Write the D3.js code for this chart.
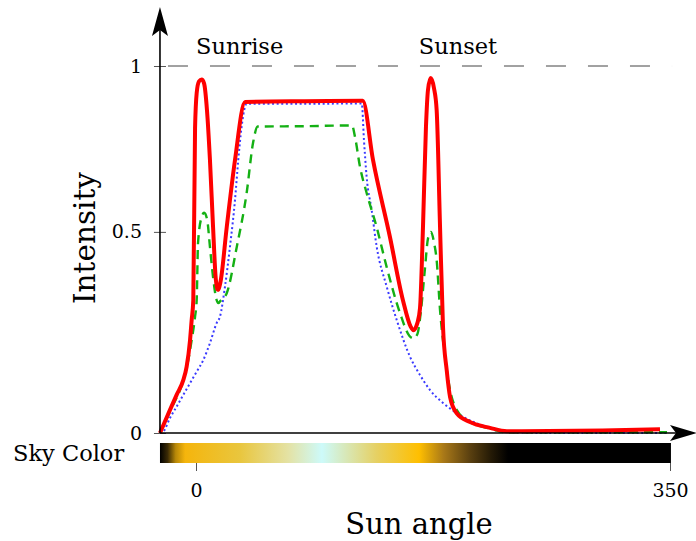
<!DOCTYPE html>
<html>
<head>
<meta charset="utf-8">
<script src="https://cdn.jsdelivr.net/npm/d3@7"></script>
<style>
  body { margin: 0; background: #fff; }
  svg { display: block; }
  text { font-family: "DejaVu Serif", serif; fill: #000; }
</style>
</head>
<body>
<svg id="chart"></svg>
<script>
const width = 696;
const height = 541;

// sun angle (deg) vs intensity
const redSeries = [
  [-26.6, 0], [-19.2, 0.063], [-14.3, 0.104], [-9.4, 0.144], [-6.9, 0.181],
  [-4.4, 0.253], [-3.2, 0.308], [-2.0, 0.362], [-0.7, 0.83], [0.5, 0.926],
  [2.2, 0.958], [4.2, 0.963], [6.0, 0.952], [8.1, 0.88], [10.3, 0.744],
  [12.6, 0.561], [14.6, 0.42], [16.2, 0.39], [18.0, 0.41], [22.7, 0.561],
  [28.8, 0.744], [36.2, 0.902], [80, 0.904], [123.1, 0.905], [130.7, 0.744],
  [143.2, 0.534], [152.8, 0.362], [158.5, 0.29], [160.5, 0.28], [163.5, 0.3],
  [165.4, 0.34], [167.6, 0.561], [169.8, 0.834], [171.3, 0.935], [173.3, 0.967],
  [175.7, 0.94], [177.7, 0.88], [180.2, 0.561], [182.4, 0.289], [185.1, 0.172],
  [187.6, 0.098], [192.5, 0.054], [202.3, 0.03], [217.1, 0.014], [229.6, 0.005],
  [300, 0.007], [342.6, 0.01]
];

const greenSeries = [
  [-26.6, 0], [-19.2, 0.06], [-9.4, 0.144], [-5.7, 0.199], [-3.2, 0.253],
  [-0.7, 0.317], [0.5, 0.362], [1.5, 0.518], [4.2, 0.589], [6.0, 0.6],
  [8.3, 0.58], [10.3, 0.507], [12.6, 0.425], [15.0, 0.365], [16.5, 0.354],
  [18.0, 0.36], [22.7, 0.381], [30.1, 0.507], [37.4, 0.654], [42.1, 0.79],
  [45.5, 0.835], [80, 0.836], [115.2, 0.838], [117.4, 0.807], [121.1, 0.725],
  [126.0, 0.654], [133.4, 0.561], [140.8, 0.452], [150.6, 0.327], [157.5, 0.265],
  [160.5, 0.258], [163.5, 0.27], [166.0, 0.33], [169.1, 0.45], [171.3, 0.53],
  [173.5, 0.548], [175.7, 0.52], [177.7, 0.471], [180.2, 0.335], [183.9, 0.207],
  [187.6, 0.117], [192.5, 0.063], [202.3, 0.03], [217.1, 0.012], [229.6, 0.002],
  [347.8, 0.002]
];

const blueSeries = [
  [-26.6, 0], [-24.1, 0.004], [-19.2, 0.041], [-14.3, 0.072], [-9.4, 0.104],
  [-4.4, 0.136], [0.5, 0.167], [5.4, 0.199], [10.3, 0.245], [15.3, 0.3],
  [17.7, 0.317], [21.4, 0.399], [25.1, 0.508], [28.8, 0.635], [31.2, 0.744],
  [33.7, 0.835], [36.2, 0.889], [37.4, 0.897], [80, 0.897], [122.4, 0.898],
  [124.0, 0.8], [126.0, 0.698], [129.7, 0.608], [133.4, 0.508], [140.8, 0.399],
  [148.2, 0.308], [158.0, 0.208], [165.4, 0.158], [172.8, 0.117], [182.4, 0.082],
  [197.2, 0.044], [214.9, 0.016], [226.7, 0.003], [260, 0], [347.8, 0]
];

// sky colour along the sun angle
const skyStops = [
  [-26.6, "#000000"], [-21, "#3a2a05"], [-15, "#b88808"], [-8, "#f5b50c"],
  [32.5, "#e9c63e"], [68, "#e4e2a4"], [93, "#cdfafa"], [133.6, "#e6d062"],
  [164.7, "#ffbf00"], [183, "#a87818"], [202.3, "#5a4010"], [218, "#241a06"],
  [230.4, "#000000"], [350.7, "#000000"]
];

const xTickValues = [0, 350];
const yTickValues = [0, 0.548, 1];
const yTickLabels = ["0", "0.5", "1"];

const eventLabels = [
  { name: "Sunrise", angle: 0 },
  { name: "Sunset", angle: 164.5 }
];

const svg = d3.select("#chart").attr("width", width).attr("height", height);

const x = d3.scaleLinear().domain([0, 350]).range([196, 670]);
const y = d3.scaleLinear().domain([0, 1]).range([433, 66]);

const x0 = x(-26.6);
const y0 = y(0);

// sky colour bar
const grad = svg.append("defs").append("linearGradient")
  .attr("id", "sky")
  .attr("gradientUnits", "userSpaceOnUse")
  .attr("x1", x(-26.6)).attr("x2", x(350.7))
  .attr("y1", 0).attr("y2", 0);

grad.selectAll("stop")
  .data(skyStops)
  .enter()
  .append("stop")
  .attr("offset", (d) => (x(d[0]) - x(-26.6)) / (x(350.7) - x(-26.6)))
  .attr("stop-color", (d) => d[1]);

svg.append("rect")
  .attr("x", x(-26.6))
  .attr("y", 443)
  .attr("width", x(350.7) - x(-26.6))
  .attr("height", 20)
  .attr("fill", "url(#sky)");

const xAxis = svg.append("g")
  .attr("transform", "translate(0,463)")
  .call(d3.axisBottom(x).tickValues(xTickValues).tickSize(8).tickPadding(13));
xAxis.select(".domain").remove();
xAxis.selectAll(".tick line").attr("stroke", "#555").attr("stroke-width", 1);
xAxis.selectAll(".tick text")
  .style("font-family", "DejaVu Serif, serif")
  .style("font-size", "19px");

svg.append("text")
  .attr("x", 13)
  .attr("y", 461)
  .style("font-size", "22.5px")
  .text("Sky Color");

// dashed line at intensity 1
svg.append("line")
  .attr("x1", x0 + 8).attr("x2", x(351.5))
  .attr("y1", y(1)).attr("y2", y(1))
  .attr("stroke", "#444")
  .attr("stroke-width", 1)
  .attr("stroke-dasharray", "20,22");

// y axis ticks
const yAxis = svg.append("g")
  .attr("transform", `translate(${x0},0)`)
  .call(d3.axisLeft(y).tickValues(yTickValues)
    .tickFormat((d, i) => yTickLabels[i]).tickSize(6).tickPadding(12));
yAxis.select(".domain").remove();
yAxis.selectAll(".tick line")
  .attr("x1", -6).attr("x2", 6)
  .attr("stroke", "#555").attr("stroke-width", 1);
yAxis.selectAll(".tick text")
  .style("font-family", "DejaVu Serif, serif")
  .style("font-size", "19px");

// curves
const line = d3.line()
  .x((d) => x(d[0]))
  .y((d) => y(d[1]))
  .curve(d3.curveMonotoneX);

svg.append("path")
  .datum(blueSeries)
  .attr("d", line)
  .attr("fill", "none")
  .attr("stroke", "#3a3aff")
  .attr("stroke-width", 2)
  .attr("stroke-dasharray", "2,2.6");

svg.append("path")
  .datum(greenSeries)
  .attr("d", line)
  .attr("fill", "none")
  .attr("stroke", "#14b014")
  .attr("stroke-width", 2.4)
  .attr("stroke-dasharray", "9,6");

svg.append("path")
  .datum(redSeries)
  .attr("d", line)
  .attr("fill", "none")
  .attr("stroke", "#ff0000")
  .attr("stroke-width", 4)
  .attr("stroke-linejoin", "round");

// main axes with arrow heads
svg.append("line")
  .attr("x1", x0).attr("x2", x0)
  .attr("y1", y0).attr("y2", 20)
  .attr("stroke", "#000").attr("stroke-width", 1.6);
svg.append("path")
  .attr("d", `M${x0},7 L${x0 + 8},36 L${x0},30 L${x0 - 8},36 Z`)
  .attr("fill", "#000");

svg.append("line")
  .attr("x1", x0).attr("x2", 684)
  .attr("y1", y0).attr("y2", y0)
  .attr("stroke", "#000").attr("stroke-width", 1.6);
svg.append("path")
  .attr("d", `M697,${y0} L670,${y0 - 8} L676,${y0} L670,${y0 + 8} Z`)
  .attr("fill", "#000");

// event labels
svg.selectAll(".event")
  .data(eventLabels)
  .enter()
  .append("text")
  .attr("class", "event")
  .attr("x", (d) => x(d.angle))
  .attr("y", 54)
  .style("font-size", "22.5px")
  .text((d) => d.name);

svg.append("text")
  .attr("transform", "translate(95,238) rotate(-90)")
  .attr("text-anchor", "middle")
  .style("font-size", "29.5px")
  .text("Intensity");

svg.append("text")
  .attr("x", 419)
  .attr("y", 534)
  .attr("text-anchor", "middle")
  .style("font-size", "29px")
  .text("Sun angle");
</script>
</body>
</html>
